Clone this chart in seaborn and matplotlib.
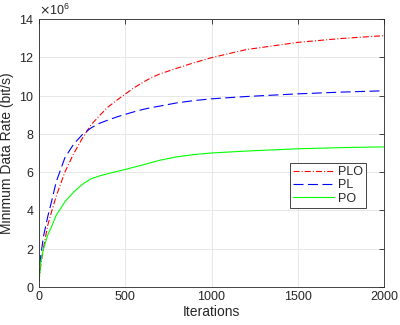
import numpy as np
import pandas as pd
import matplotlib
matplotlib.use("Agg")
import matplotlib.pyplot as plt
import seaborn as sns

# 迭代次数与三种方案的最小数据速率 (单位: bit/s, 图中按 1e6 读数)
iterations = [0, 10, 25, 50, 75, 100, 150, 200, 250, 300, 350, 400, 450, 500, 550,
              600, 650, 700, 800, 900, 1000, 1200, 1500, 1750, 2000]
plo_rate = [0.3, 1.1, 2.0, 3.2, 4.0, 4.75, 6.0, 6.95, 7.75, 8.45, 8.95, 9.4, 9.75, 10.08, 10.4,
            10.68, 10.93, 11.13, 11.43, 11.72, 11.98, 12.4, 12.78, 12.98, 13.13]
pl_rate = [0.4, 1.6, 2.6, 3.65, 4.55, 5.5, 6.75, 7.45, 7.95, 8.3, 8.55, 8.72, 8.88, 9.02, 9.15,
           9.27, 9.37, 9.45, 9.62, 9.74, 9.83, 9.95, 10.09, 10.18, 10.25]
po_rate = [0.3, 1.3, 1.95, 2.7, 3.2, 3.75, 4.45, 4.95, 5.35, 5.65, 5.8, 5.92, 6.03, 6.14, 6.26,
           6.37, 6.5, 6.62, 6.8, 6.92, 7.0, 7.1, 7.22, 7.28, 7.32]
scheme_names = ["PLO", "PL", "PO"]
scale = 1e6

df = pd.DataFrame({
    "Iterations": iterations * 3,
    "Rate": np.array(plo_rate + pl_rate + po_rate) * scale,
    "Scheme": np.repeat(scheme_names, len(iterations)),
})

sns.set_theme(style="whitegrid")
plt.rcParams['font.family'] = ['Liberation Sans', 'DejaVu Sans']

fig = plt.figure(figsize=(4, 3.25), dpi=100)
ax = fig.add_axes([0.0975, 0.117, 0.8625, 0.8245])

colors = {"PLO": "#ff0000", "PL": "#0000ff", "PO": "#00ff00"}
styles = {"PLO": (0, (5.4, 1.9, 0.9, 1.9)), "PL": (0, (9, 4)), "PO": "-"}
for name in scheme_names:
    sub = df[df["Scheme"] == name]
    sns.lineplot(data=sub, x="Iterations", y="Rate", ax=ax, color=colors[name],
                 linestyle=styles[name], linewidth=0.8, label=name, legend=False)

ax.set_xlim(0, 2000)
ax.set_ylim(0, 14e6)
ax.set_xticks([0, 500, 1000, 1500, 2000])
ax.set_yticks(np.arange(0, 15e6, 2e6))
ax.ticklabel_format(axis='y', style='sci', scilimits=(6, 6), useMathText=True)
ax.yaxis.get_offset_text().set_fontsize(9)
ax.yaxis.get_offset_text().set_color('#262626')

ax.set_xlabel("Iterations", fontsize=10, color='#262626', labelpad=1)
ax.set_ylabel("Minimum Data Rate (bit/s)", fontsize=10, color='#262626', labelpad=4)

ax.grid(True, color='#e3e3e3', linewidth=0.6)
ax.set_facecolor('white')
for sp in ax.spines.values():
    sp.set_color('#262626')
    sp.set_linewidth(0.6)
ax.tick_params(direction='in', length=3.5, width=0.6, colors='#262626',
               labelsize=9, top=True, right=True, pad=3)

leg = ax.legend(loc='upper right', bbox_to_anchor=(0.948, 0.463), fontsize=9,
                handlelength=3.3, handletextpad=0.3, borderpad=0.25,
                labelspacing=0.1, fancybox=False, framealpha=1, borderaxespad=0)
leg.get_frame().set_edgecolor('#262626')
leg.get_frame().set_linewidth(0.6)

fig.savefig("out.png", dpi=100)
